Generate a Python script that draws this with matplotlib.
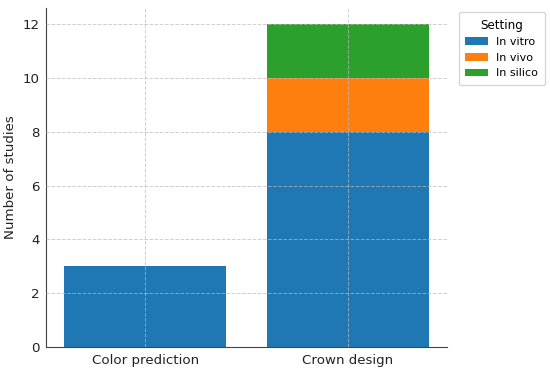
import numpy as np
import matplotlib
matplotlib.use("Agg")
import matplotlib.pyplot as plt

categories = ["Color prediction", "Crown design"]
settings = ["In vitro", "In vivo", "In silico"]
in_vitro = [3, 8]
in_vivo = [0, 2]
in_silico = [0, 2]
colors = ["#1f77b4", "#ff7f0e", "#2ca02c"]

fig = plt.figure(figsize=(5.5, 3.69), dpi=100)
ax = fig.add_axes([0.084, 0.06, 0.729, 0.918])

x = np.arange(len(categories))
bottom = np.zeros(len(categories))
for label, vals, c in zip(settings, [in_vitro, in_vivo, in_silico], colors):
    vals = np.array(vals, dtype=float)
    ax.bar(x, vals, 0.8, bottom=bottom, color=c, label=label)
    bottom += vals

ax.set_xticks(x)
ax.set_xticklabels(categories, fontsize=9.6, color="#222222")
ax.set_ylabel("Number of studies", fontsize=9.6, color="#222222")
ax.tick_params(axis="both", length=0, pad=5, labelsize=9.6, labelcolor="#222222")
ax.set_ylim(0, 12.6)
ax.grid(True, linestyle="--", color="#bbbbbb", linewidth=0.7, alpha=0.7)
ax.set_axisbelow(False)
for s in ["top", "right"]:
    ax.spines[s].set_visible(False)
for s in ["left", "bottom"]:
    ax.spines[s].set_color("#444444")

ax.legend(title="Setting", loc="upper left", bbox_to_anchor=(1.015, 1.005),
          fontsize=8, title_fontsize=8.6, borderpad=0.6)

fig.savefig("out.png", dpi=100)
